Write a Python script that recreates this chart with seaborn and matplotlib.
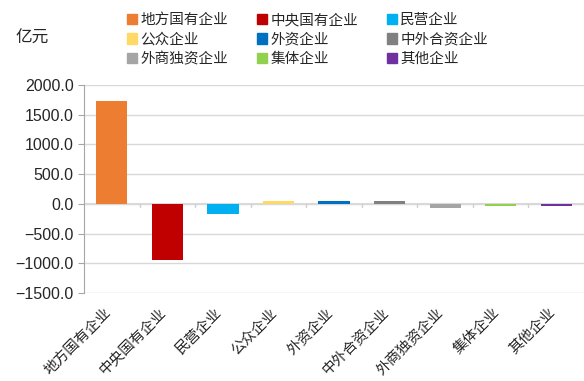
import matplotlib
matplotlib.use('Agg')
import matplotlib.pyplot as plt
import matplotlib.patches as mpatches
import matplotlib.transforms as mtransforms
import seaborn as sns

categories = ['地方国有企业', '中央国有企业', '民营企业', '公众企业', '外资企业',
              '中外合资企业', '外商独资企业', '集体企业', '其他企业']
values = [1725.0, -940.0, -170.0, 40.0, 40.0, 55.0, -70.0, -30.0, -35.0]
colors = ['#ED7D31', '#C00000', '#00B0F0', '#FFD966', '#0070C0',
          '#808080', '#A5A5A5', '#92D050', '#7030A0']
yticks = [-1500, -1000, -500, 0, 500, 1000, 1500, 2000]

sns.set_style('white')
plt.rcParams['font.family'] = ['Liberation Sans', 'Noto Sans CJK SC']
plt.rcParams['axes.unicode_minus'] = True

fig = plt.figure(figsize=(5.84, 3.81), dpi=100)
ax = fig.add_axes([0.144, 0.231, 0.856, 0.546])

sns.barplot(x=categories, y=values, hue=categories, palette=colors,
            saturation=1, legend=False, width=0.56, linewidth=0, ax=ax, zorder=3)

ax.set_ylim(-1500, 2000)
ax.set_xlim(-0.5, len(categories) - 0.5)
ax.set_yticks(yticks)
ax.set_yticklabels([f'{v:.1f}'.replace('-', '\u2212') for v in yticks],
                   fontsize=11.5, color='#262626')
ax.yaxis.grid(True, color='#D9D9D9', linewidth=1)
ax.set_axisbelow(True)
ax.axhline(0, color='#D9D9D9', linewidth=1.5, zorder=2)

for s in ['top', 'right', 'bottom']:
    ax.spines[s].set_visible(False)
ax.spines['left'].set_color('#A6A6A6')
ax.tick_params(axis='y', length=4, color='#A6A6A6', left=True)

# category boundary ticks on the zero line
for i in range(1, len(categories)):
    ax.plot([i - 0.5, i - 0.5], [0, -60], color='#D0D0D0', linewidth=1, zorder=2)

ax.tick_params(axis='x', length=0, pad=9)
ax.set_xticks(range(len(categories)))
ax.set_xticklabels(categories, rotation=45, ha='right', va='top',
                   rotation_mode='anchor', fontsize=10.5, color='#262626')
# nudge labels left so their ends sit under the bar centres
shift = mtransforms.ScaledTranslation(-6 / 72, 0, fig.dpi_scale_trans)
for lbl in ax.get_xticklabels():
    lbl.set_transform(lbl.get_transform() + shift)
ax.set_xlabel('')
ax.set_ylabel('')

fig.text(0.026, 0.9, '亿元', fontsize=12, color='#262626', va='center')

# legend fills column-wise, so reorder to read row-wise like the original
order = [0, 3, 6, 1, 4, 7, 2, 5, 8]
handles = [mpatches.Patch(color=colors[i], label=categories[i]) for i in order]
fig.legend(handles=handles, ncol=3, loc='upper left', bbox_to_anchor=(0.195, 1.0),
           frameon=False, fontsize=10.5, handlelength=0.7, handleheight=0.7,
           handletextpad=0.2, columnspacing=2.0, labelspacing=0.38,
           labelcolor='#262626')

fig.savefig('out.png', dpi=100)
